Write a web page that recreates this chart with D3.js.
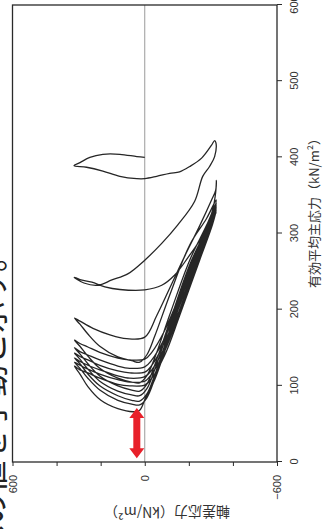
<!DOCTYPE html>
<html><head><meta charset="utf-8">
<script src="https://cdn.jsdelivr.net/npm/d3@7"></script>
<style>html,body{margin:0;padding:0;background:#fff;overflow:hidden}</style>
</head><body><svg id="c" width="323" height="529"></svg>
<script>
// ---- data (p' = effective mean principal stress, q = deviator stress), kN/m2
const pTicks = [0, 100, 200, 300, 400, 500, 600];
const qTicks = [600, 400, 200, 0, -200, -400, -600];
const qLabelled = [600, 0, -600];

const cycle1 = [[400,0],[401,36],[404,113],[404,190],[400,249],[393,294],[389,321],[387,264],[382,190],[375,113],[372,36],[372,0],[375,-54],[379,-113],[381,-158],[388,-204],[399,-258],[416,-303],[422,-317],[419,-323]];
const cycle2 = [[401,-317],[388,-294],[375,-263],[342,-226],[311,-149],[287,-77],[265,0],[247,77],[239,149],[232,213],[235,276],[242.5,320],[239.6,294],[236,240],[230,181],[226.5,113],[226,0],[232,-77],[245.5,-136],[268,-195],[302,-272],[331,-308],[354.5,-322],[369.6,-325]];
const cycle3 = [[357,-322],[344,-303],[310,-249],[270,-181],[228,-113],[192,-54],[164,0],[162,82],[167,158],[175.5,235],[185,294],[189,319],[181,294],[168,258],[152,204],[138,122],[133,59],[131,23],[140.5,-9],[165,-45],[219,-113],[285,-204],[320,-281],[344,-324]];
const cycle4 = [[326,-308],[285,-249],[219,-158],[173,-91],[144,-32],[135,0],[134,68],[136.5,122],[144,204],[151,258],[155.6,294],[160,319],[152,294],[139,258],[123,204],[110,122],[105,59],[104,23],[113,-9],[136.5,-45],[193,-113],[265,-204],[311,-281],[340,-324]];
const cycle5 = [[322,-308],[278,-249],[210,-158],[163,-91],[134,-32],[125,0],[123,68],[126,122],[134,204],[140.5,258],[145,294],[150,319],[142,294],[129,258],[113,204],[100,122],[94.5,59],[93,23],[102,-9],[127,-45],[184,-113],[259,-204],[307,-281],[337,-324]];
const cycle6 = [[319,-308],[274,-249],[205,-158],[157.5,-91],[127,-32],[118,0],[117,68],[119.5,122],[127,204],[134,258],[138.5,294],[143,319],[135,294],[122,258],[106,204],[93,122],[88,59],[87,23],[96,-9],[121,-45],[179,-113],[255,-204],[305,-281],[335,-324]];
const cycle7 = [[316,-308],[270.5,-249],[200,-158],[151,-91],[121,-32],[112,0],[110,68],[113,122],[121,204],[127,258],[132,294],[136.5,319],[129,294],[115.5,258],[100,204],[87,122],[81,59],[80,23],[89,-9],[114,-45],[173,-113],[252,-204],[303,-281],[333.5,-324]];
const cycle8 = [[315,-308],[268,-249],[196,-158],[146,-91],[115.5,-32],[106,0],[105,68],[108,122],[115.5,204],[122,258],[127,294],[131,319],[123,294],[110,258],[94.5,204],[81,122],[76,59],[75,23],[84,-9],[109,-45],[169,-113],[249.5,-204],[301,-281],[331,-324]];
const cycle9 = [[312.5,-308],[265,-249],[192,-158],[140.5,-91],[110,-32],[101,0],[100,68],[102,122],[110,204],[117,258],[121,294],[126,319],[115.5,294],[99,258],[81,199],[70,122],[66,50],[68,23],[85,-5],[108,-45],[165,-113],[247,-204],[298,-281],[328,-324]];
const cycles = [cycle1, cycle2, cycle3, cycle4, cycle5, cycle6, cycle7, cycle8, cycle9];

// red arrow annotation (minimum p')
const arrowQ = 36;
const arrowP = [5, 71];

const xTitle = "有効平均主応力（kN/m²）";
const yTitle = "軸差応力（kN/m²）";
const sideNote = "への値を手動と示す。";

// ---- layout
const plot = {left: 12.5, top: 5, right: 277, bottom: 462};
const iw = plot.bottom - plot.top;   // p' axis length (vertical on screen)
const ih = plot.right - plot.left;   // q axis length (horizontal on screen)

const svg = d3.select('#c');
const x = d3.scaleLinear().domain([0, 600]).range([0, iw]);
const y = d3.scaleLinear().domain([-600, 600]).range([ih, 0]);

// whole chart is drawn rotated 90° counter-clockwise
const g = svg.append('g').attr('transform', `translate(${plot.left},${plot.bottom}) rotate(-90)`);

// zero line
g.append('line').attr('x1', 0).attr('x2', iw).attr('y1', y(0)).attr('y2', y(0))
  .attr('stroke', '#9a9a9a').attr('stroke-width', 1);

// stress path
const line = d3.line().x(d => x(d[0])).y(d => y(d[1])).curve(d3.curveCatmullRom.alpha(0.5));
g.append('path').attr('d', line(cycles.flat()))
  .attr('fill', 'none').attr('stroke', '#262626').attr('stroke-width', 1.3).attr('stroke-linejoin', 'round');

// frame
g.append('rect').attr('x', 0).attr('y', 0).attr('width', iw).attr('height', ih)
  .attr('fill', 'none').attr('stroke', '#2a2a2a').attr('stroke-width', 1.3);

// axes
const fmt = d3.format('d');
const ax = g.append('g').attr('transform', `translate(0,${ih})`)
  .call(d3.axisBottom(x).tickValues(pTicks).tickSize(5).tickPadding(8).tickFormat(fmt));
const ay = g.append('g')
  .call(d3.axisLeft(y).tickValues(qTicks).tickSize(4).tickPadding(9)
    .tickFormat(d => qLabelled.includes(d) ? fmt(d) : ''));
[ax, ay].forEach(a => {
  a.select('.domain').remove();
  a.selectAll('line').attr('stroke', '#2a2a2a').attr('stroke-width', 1);
  a.selectAll('text').attr('fill', '#333').style('font-family', '"Liberation Sans", Arial, sans-serif').style('font-size', '11px');
});

// titles
const sx = q => plot.left + y(q);
const sy = p => plot.bottom - x(p);
svg.append('text').attr('transform', `translate(313,210) rotate(-90)`)
  .attr('text-anchor', 'middle').attr('dominant-baseline', 'central')
  .style('font-family', '"Noto Sans CJK JP", sans-serif').style('font-size', '13px').attr('fill', '#333')
  .text(xTitle);
svg.append('text').attr('transform', `translate(167,512.5) rotate(180)`)
  .attr('text-anchor', 'middle').attr('dominant-baseline', 'central')
  .style('font-family', '"Noto Sans CJK JP", sans-serif').style('font-size', '14px').attr('fill', '#333')
  .text(yTitle);

// side caption (cut off by the page edge, as in the reference)
svg.append('text').attr('transform', `translate(4,240) rotate(-90)`)
  .attr('text-anchor', 'end')
  .style('font-family', '"Noto Sans CJK JP", sans-serif').style('font-size', '32px').attr('fill', '#222')
  .text(sideNote);

// red double arrow
const ax0 = sx(arrowQ), yTop = sy(arrowP[1]), yBot = sy(arrowP[0]);
const hw = 7.5, sw = 3.5, hl = 10;
const arrowPath = `M${ax0},${yTop} L${ax0+hw},${yTop+hl} L${ax0+sw},${yTop+hl} L${ax0+sw},${yBot-hl} L${ax0+hw},${yBot-hl} L${ax0},${yBot} L${ax0-hw},${yBot-hl} L${ax0-sw},${yBot-hl} L${ax0-sw},${yTop+hl} L${ax0-hw},${yTop+hl} Z`;
svg.append('path').attr('d', arrowPath).attr('fill', '#e8202a');
</script></body></html>
